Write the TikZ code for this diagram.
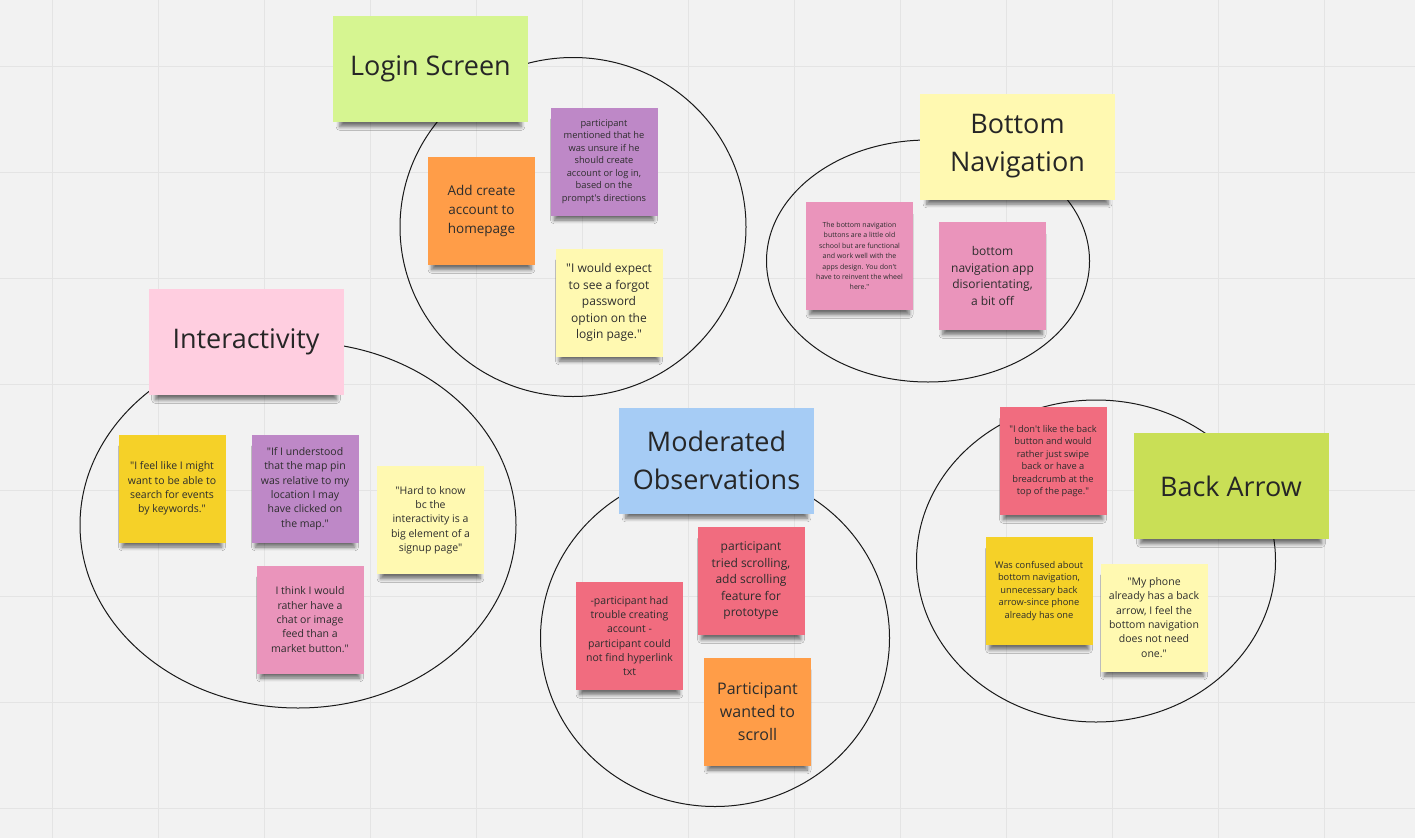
\documentclass[tikz,border=0pt]{standalone}
\usepackage{fontspec}
\setmainfont{Open Sans}[Ligatures=TeXOff]
\usepackage{tikz}
\usetikzlibrary{shapes.geometric,shadows.blur}
\definecolor{boardcolor}{RGB}{242,242,242}
\definecolor{gridcolor}{RGB}{228,228,228}
\definecolor{inkcolor}{RGB}{45,45,45}
\definecolor{limenote}{RGB}{214,245,145}
\definecolor{orangenote}{RGB}{255,157,72}
\definecolor{violetnote}{RGB}{190,136,199}
\definecolor{creamnote}{RGB}{255,249,177}
\definecolor{pinknote}{RGB}{234,148,187}
\definecolor{blushnote}{RGB}{255,206,224}
\definecolor{goldnote}{RGB}{245,209,40}
\definecolor{skynote}{RGB}{166,204,245}
\definecolor{rednote}{RGB}{241,108,127}
\definecolor{olivenote}{RGB}{201,223,86}

\begin{document}
\begin{tikzpicture}[x=1pt,y=-1pt,
  note/.style={rectangle, minimum width=107, minimum height=108, inner sep=0pt,
    align=center, text=inkcolor,
    blur shadow={shadow xshift=0pt, shadow yshift=-9pt, shadow scale=0.93,
      shadow opacity=55, shadow blur radius=4pt, shadow blur steps=6}},
  titlenote/.style={note, minimum width=195, minimum height=106, text=black!85,
    font=\fontsize{27}{38}\selectfont},
  clusterset/.style={ellipse, draw=black!90, line width=1pt, inner sep=0pt},
  tinytext/.style={font=\fontsize{7}{10.4}\selectfont},
  smalltext/.style={font=\fontsize{9.3}{12.5}\selectfont},
  medtext/.style={font=\fontsize{10.5}{14.3}\selectfont},
  bodytext/.style={font=\fontsize{12}{16.5}\selectfont},
  bigtext/.style={font=\fontsize{13.5}{19}\selectfont},
  largetext/.style={font=\fontsize{16}{23}\selectfont}]
\fill[boardcolor] (0,0) rectangle (1415,838);
\useasboundingbox (0,0) rectangle (1415,838);
\foreach \gx in {52,158,...,1324}
  \draw[gridcolor, line width=1pt] (\gx,0) -- (\gx,838);
\foreach \gy in {66,172,...,808}
  \draw[gridcolor, line width=1pt] (0,\gy) -- (1415,\gy);

\node[clusterset, minimum width=346, minimum height=339] (loginset) at (573,227) {};
\node[clusterset, minimum width=323, minimum height=242] (navset) at (928,261) {};
\node[clusterset, minimum width=436, minimum height=366] (interset) at (298,525) {};
\node[clusterset, minimum width=349, minimum height=337] (modset) at (715,638) {};
\node[clusterset, minimum width=359, minimum height=322] (backset) at (1096,561) {};

\node[titlenote, fill=limenote] (logintitle) at (430.5,69) {Login Screen};
\node[note, bigtext, fill=orangenote] (addacct) at (481.5,211) {Add create\\account to\\homepage};
\node[note, smalltext, fill=violetnote] (unsure) at (604,161.5) {participant\\mentioned that he\\was unsure if he\\should create\\account or log in,\\based on the\\prompt's directions};
\node[note, bodytext, fill=creamnote] (forgot) at (609,302.5) {"I would expect\\to see a forgot\\password\\option on the\\login page."};

\node[titlenote, fill=creamnote] (navtitle) at (1017.5,146.5) {Bottom\\Navigation};
\node[note, tinytext, fill=pinknote] (oldschool) at (859.5,256) {The bottom navigation\\buttons are a little old\\school but are functional\\and work well with the\\apps design. You don't\\have to reinvent the wheel\\here."};
\node[note, bodytext, fill=pinknote] (disorient) at (992.5,276) {bottom\\navigation app\\disorientating,\\a bit off};

\node[titlenote, fill=blushnote] (intertitle) at (246,342) {Interactivity};
\node[note, medtext, fill=goldnote] (keywords) at (172,488.5) {"I feel like I might\\want to be able to\\search for events\\by keywords."};
\node[note, medtext, fill=violetnote] (mappin) at (305,488.5) {"If I understood\\that the map pin\\was relative to my\\location I may\\have clicked on\\the map."};
\node[note, medtext, fill=creamnote] (hardknow) at (430.5,520) {"Hard to know\\bc the\\interactivity is a\\big element of a\\signup page"};
\node[note, medtext, fill=pinknote] (chatfeed) at (310,619.5) {I think I would\\rather have a\\chat or image\\feed than a\\market button."};

\node[titlenote, fill=skynote] (modtitle) at (716.5,460.5) {Moderated\\Observations};
\node[note, bodytext, fill=rednote] (triedscroll) at (751,581) {participant\\tried scrolling,\\add scrolling\\feature for\\prototype};
\node[note, medtext, fill=rednote] (trouble) at (629.5,636) {-participant had\\trouble creating\\account -\\participant could\\not find hyperlink\\txt};
\node[note, largetext, fill=orangenote] (wantscroll) at (757.5,711.5) {Participant\\wanted to\\scroll};

\node[note, smalltext, fill=rednote] (dontlike) at (1053,461) {"I don't like the back\\button and would\\rather just swipe\\back or have a\\breadcrumb at the\\top of the page."};
\node[titlenote, fill=olivenote] (backtitle) at (1231,486) {Back Arrow};
\node[note, smalltext, fill=goldnote] (confused) at (1039,591) {Was confused about\\bottom navigation,\\unnecessary back\\arrow-since phone\\already has one};
\node[note, medtext, fill=creamnote] (phoneback) at (1154,617.5) {"My phone\\already has a back\\arrow, I feel the\\bottom navigation\\does not need\\one."};
\end{tikzpicture}
\end{document}
